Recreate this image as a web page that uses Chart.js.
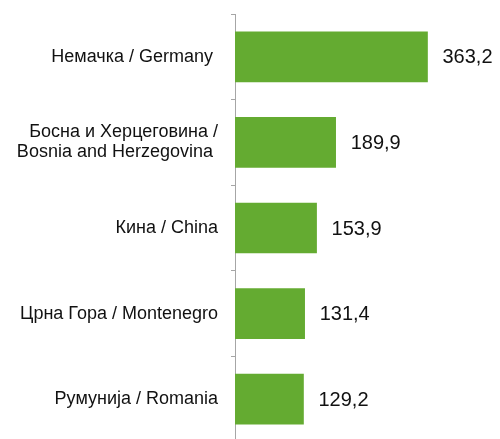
<!DOCTYPE html>
<html>
<head>
<meta charset="utf-8">
<script src="https://cdn.jsdelivr.net/npm/chart.js@4.4.1/dist/chart.umd.min.js"></script>
<style>
  html, body { margin: 0; padding: 0; background: #fff; overflow: hidden; }
  #wrap { width: 500px; height: 442px; }
</style>
</head>
<body>
<div id="wrap"><canvas id="chart"></canvas></div>
<script>
const countries = [
    "Немачка / Germany ",
    ["Босна и Херцеговина /", "Bosnia and Herzegovina "],
    "Кина / China",
    "Црна Гора / Montenegro",
    "Румунија / Romania"
];
const values = [363.2, 189.9, 153.9, 131.4, 129.2];

const barGreen = "#64ab31";
const axisGray = "#a6a6a6";

// value labels to the right of each bar, decimal comma
const valueLabels = {
    id: "valueLabels",
    afterDatasetsDraw(chart) {
        const ctx = chart.ctx;
        const meta = chart.getDatasetMeta(0);
        ctx.save();
        ctx.font = "20px 'Liberation Sans', Arial, sans-serif";
        ctx.fillStyle = "#111";
        ctx.textAlign = "left";
        ctx.textBaseline = "middle";
        meta.data.forEach((bar, i) => {
            ctx.fillText(values[i].toFixed(1).replace(".", ","), bar.x + 15, bar.y + 1);
        });
        ctx.restore();
    }
};

new Chart(document.getElementById("chart"), {
    type: "bar",
    data: {
        labels: countries,
        datasets: [{
            data: values,
            backgroundColor: barGreen,
            borderWidth: 0,
            barThickness: 50
        }]
    },
    options: {
        responsive: true,
        maintainAspectRatio: false,
        animation: false,
        indexAxis: "y",
        layout: {
            padding: { top: 14, right: 0, bottom: 0, left: 0 }
        },
        plugins: {
            legend: { display: false },
            tooltip: { enabled: false }
        },
        scales: {
            x: {
                display: false,
                min: 0,
                max: 500
            },
            y: {
                afterFit(scale) {
                    scale.width = 235;
                    scale.paddingTop = 0;
                    scale.paddingBottom = 0;
                },
                border: { color: axisGray, width: 1 },
                grid: {
                    drawOnChartArea: false,
                    tickLength: 4,
                    color: axisGray
                },
                ticks: {
                    color: "#111",
                    padding: 13,
                    font: { family: "'Liberation Sans', Arial, sans-serif", size: 18, lineHeight: 1.11 }
                }
            }
        }
    },
    plugins: [valueLabels]
});
</script>
</body>
</html>
